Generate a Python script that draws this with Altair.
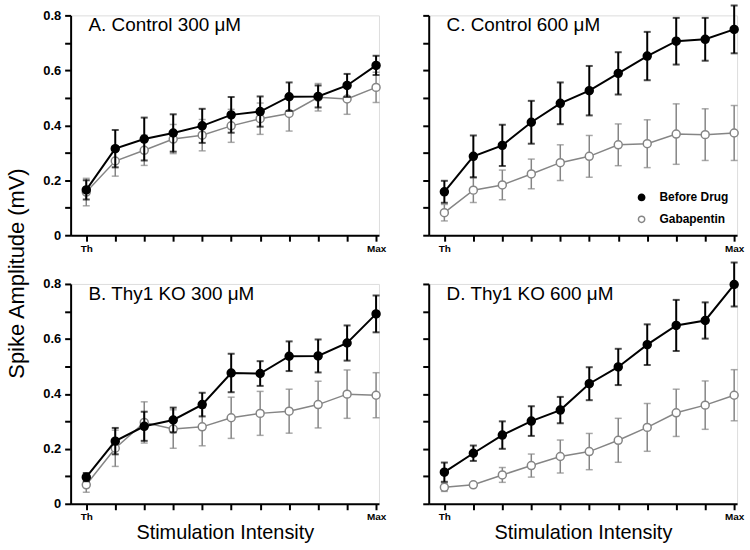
import altair as alt
import pandas as pd

steps = list(range(11))
series_names = ["Before Drug", "Gabapentin"]

panel_keys = ["A", "C", "B", "D"]
panel_titles = {
    "A": "A. Control 300 \u03bcM",
    "C": "C. Control 600 \u03bcM",
    "B": "B. Thy1 KO 300 \u03bcM",
    "D": "D. Thy1 KO 600 \u03bcM",
}

A_before = [0.165, 0.315, 0.350, 0.372, 0.398, 0.438, 0.450, 0.504, 0.505, 0.545, 0.618]
A_before_err = [0.035, 0.068, 0.078, 0.068, 0.062, 0.065, 0.055, 0.052, 0.040, 0.042, 0.035]
A_gaba = [0.157, 0.270, 0.309, 0.350, 0.364, 0.398, 0.424, 0.443, 0.502, 0.496, 0.538]
A_gaba_err = [0.050, 0.055, 0.055, 0.053, 0.057, 0.060, 0.057, 0.064, 0.050, 0.056, 0.055]

C_before = [0.158, 0.287, 0.327, 0.411, 0.480, 0.526, 0.589, 0.652, 0.706, 0.713, 0.749]
C_before_err = [0.040, 0.076, 0.075, 0.078, 0.076, 0.090, 0.077, 0.088, 0.085, 0.078, 0.087]
C_gaba = [0.082, 0.164, 0.183, 0.223, 0.264, 0.287, 0.329, 0.333, 0.368, 0.366, 0.372]
C_gaba_err = [0.030, 0.045, 0.054, 0.054, 0.065, 0.076, 0.076, 0.087, 0.110, 0.094, 0.100]

B_before = [0.097, 0.228, 0.282, 0.305, 0.361, 0.476, 0.474, 0.537, 0.538, 0.585, 0.691]
B_before_err = [0.015, 0.048, 0.053, 0.045, 0.043, 0.070, 0.045, 0.054, 0.060, 0.064, 0.067]
B_gaba = [0.069, 0.202, 0.296, 0.272, 0.280, 0.313, 0.329, 0.337, 0.361, 0.399, 0.395]
B_gaba_err = [0.027, 0.066, 0.075, 0.070, 0.069, 0.075, 0.080, 0.080, 0.085, 0.088, 0.082]

D_before = [0.115, 0.184, 0.250, 0.301, 0.341, 0.437, 0.498, 0.579, 0.649, 0.667, 0.798]
D_before_err = [0.035, 0.028, 0.050, 0.054, 0.048, 0.060, 0.066, 0.074, 0.093, 0.066, 0.080]
D_gaba = [0.060, 0.069, 0.105, 0.139, 0.172, 0.190, 0.231, 0.278, 0.331, 0.359, 0.395]
D_gaba_err = [0.015, 0.008, 0.027, 0.042, 0.060, 0.066, 0.080, 0.087, 0.086, 0.088, 0.093]

values = {
    ("A", "Before Drug"): (A_before, A_before_err),
    ("A", "Gabapentin"): (A_gaba, A_gaba_err),
    ("C", "Before Drug"): (C_before, C_before_err),
    ("C", "Gabapentin"): (C_gaba, C_gaba_err),
    ("B", "Before Drug"): (B_before, B_before_err),
    ("B", "Gabapentin"): (B_gaba, B_gaba_err),
    ("D", "Before Drug"): (D_before, D_before_err),
    ("D", "Gabapentin"): (D_gaba, D_gaba_err),
}

rows = []
for (p, s), (m, e) in values.items():
    for i, (mv, ev) in enumerate(zip(m, e)):
        rows.append({"panel": p, "series": s, "step": steps[i], "amp": mv,
                     "lo": mv - ev, "hi": mv + ev})
df = pd.DataFrame(rows)

FONT = "Liberation Sans"
GRAY = "#858585"
W, H = 310, 221

color_scale = alt.Scale(domain=series_names, range=["#000000", GRAY])
fill_scale = alt.Scale(domain=series_names, range=["#000000", "#ffffff"])
stroke_scale = alt.Scale(domain=series_names, range=["#000000", GRAY])

legend_c = alt.Legend(
    title=None, orient="none", legendX=208, legendY=177,
    symbolType="circle", symbolSize=40, symbolStrokeWidth=1.5,
    labelFont=FONT, labelFontSize=12, labelFontWeight="bold",
    labelColor="#000000", rowPadding=8, labelOffset=12,
)

x_scale = alt.Scale(domain=[-0.54, 10.1], nice=False, zero=False)
y_scale = alt.Scale(domain=[0, 0.8], nice=False)


def panel(key, y_labels, y_title, x_title, show_legend):
    d = df[df.panel == key]
    xaxis = alt.Axis(
        values=steps,
        labelExpr="datum.value == 0 ? 'Th' : (datum.value == 10 ? 'Max' : '')",
        labelFontSize=10, labelFontWeight="bold", labelFont=FONT, labelColor="#000",
        labelPadding=2, labelFlush=False, labelOverlap=False,
        tickSize=6, tickWidth=2, tickColor="#000",
        domainWidth=2, domainColor="#000", grid=False,
        title="Stimulation Intensity" if x_title else None,
        titleFont=FONT, titleFontSize=20, titleFontWeight="normal",
        titleColor="#000", titlePadding=1,
    )
    yargs = dict(
        values=[0, 0.1, 0.2, 0.3, 0.4, 0.5, 0.6, 0.7, 0.8],
        labelExpr="round(datum.value * 10) % 2 == 0 ? (datum.value == 0 ? '0' : format(datum.value, '.1f')) : ''",
        labels=y_labels,
        labelFontSize=13, labelFontWeight="bold", labelFont=FONT, labelColor="#000",
        labelPadding=4, labelOverlap=False,
        tickSize=6, tickWidth=2, tickColor="#000",
        domainWidth=2, domainColor="#000", grid=False,
    )
    if y_title:
        yargs.update(title="Spike Amplitude (mV)", titleFont=FONT, titleFontSize=22,
                     titleFontWeight="normal", titleColor="#000",
                     titleY=259, titleX=-42, titleAlign="center", titleAngle=270)
    else:
        yargs.update(title=None)
    yaxis = alt.Axis(**yargs)

    leg = legend_c if show_legend else None
    X = alt.X("step:Q", scale=x_scale, axis=xaxis)
    layers = []
    for s, lw in [("Gabapentin", 1.5), ("Before Drug", 2)]:
        ds = d[d.series == s]
        base = alt.Chart(ds)
        line = base.mark_line(strokeWidth=lw).encode(
            x=X, y=alt.Y("amp:Q", scale=y_scale, axis=yaxis),
            color=alt.Color("series:N", scale=color_scale, legend=None),
        )
        err = base.mark_errorbar(ticks=True, size=7, thickness=lw).encode(
            x=X, y=alt.Y("lo:Q", scale=y_scale, axis=yaxis), y2="hi:Q",
            color=alt.Color("series:N", scale=color_scale, legend=None),
        )
        pts = base.mark_circle(size=64, strokeWidth=1.5, opacity=1).encode(
            x=X, y=alt.Y("amp:Q", scale=y_scale, axis=yaxis),
            fill=alt.Fill("series:N", scale=fill_scale, legend=leg),
            stroke=alt.Stroke("series:N", scale=stroke_scale, legend=leg),
        )
        layers += [line, err, pts]
    label = alt.Chart(pd.DataFrame({"t": [panel_titles[key]]})).mark_text(
        align="left", baseline="alphabetic", font=FONT, fontSize=19, color="#000"
    ).encode(x=alt.value(18), y=alt.value(16), text="t:N")
    layers.append(label)
    return alt.layer(*layers).properties(width=W, height=H)


chart = alt.concat(
    panel("A", True, True, False, False),
    panel("C", False, False, False, True),
    panel("B", True, False, True, False),
    panel("D", False, False, True, False),
    columns=2,
    spacing={"row": 49, "column": 50},
    bounds="flush",
).resolve_legend(
    fill="independent", stroke="independent"
).properties(
    padding={"left": 5, "top": 2, "right": 5, "bottom": 5}
).configure_view(stroke=None).configure(background="white")

chart.save("out.html", embed_options={"renderer": "svg", "actions": False})
